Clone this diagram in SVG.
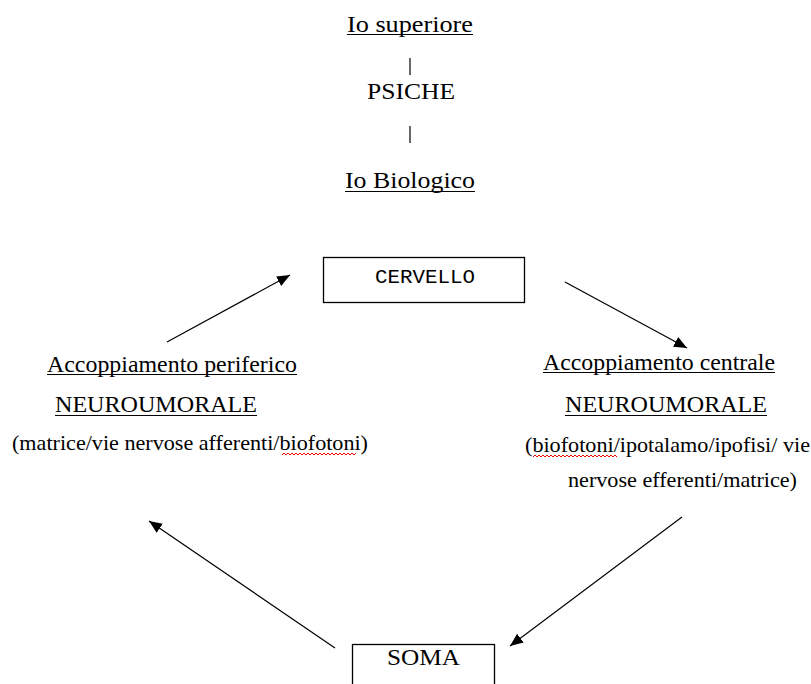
<svg xmlns="http://www.w3.org/2000/svg" width="811" height="684" viewBox="0 0 811 684">
<style>
.t{font-family:"Liberation Serif",Tinos,"Times New Roman","DejaVu Serif",serif;font-size:24px;fill:#000}
.s{font-family:"Liberation Serif",Tinos,"Times New Roman","DejaVu Serif",serif;font-size:21px;fill:#000}
.m{font-family:"Liberation Mono",Cousine,"Courier New","DejaVu Sans Mono",monospace;font-size:20px;fill:#000}
.u{stroke:#000;stroke-width:1}
.box{fill:#fff;stroke:#000;stroke-width:1.3}
.c{stroke:#000;stroke-width:1.2;fill:none}
.sq{stroke:#e00;stroke-width:1;fill:none}
</style>
<defs>
<marker id="ah" markerUnits="userSpaceOnUse" markerWidth="14" markerHeight="12" refX="13" refY="5.5" orient="auto">
<path d="M0,0 L13,5.5 L0,11 z" fill="#000"/>
</marker>
</defs>
<rect width="811" height="684" fill="#fff"/>
<g id="io-superiore">
<text class="t" x="347" y="32" textLength="126" lengthAdjust="spacingAndGlyphs">Io superiore</text>
<line class="u" x1="347" y1="34.5" x2="473" y2="34.5"/>
</g>
<g id="psiche">
<text class="t" x="367" y="99" textLength="88" lengthAdjust="spacingAndGlyphs">PSICHE</text>
</g>
<g id="io-biologico">
<text class="t" x="345" y="188" textLength="130" lengthAdjust="spacingAndGlyphs">Io Biologico</text>
<line class="u" x1="345" y1="191.5" x2="475" y2="191.5"/>
</g>
<g id="cervello">
<rect class="box" x="323.5" y="257.5" width="201" height="45"/>
<text class="m" x="375" y="283" textLength="100" lengthAdjust="spacingAndGlyphs">CERVELLO</text>
</g>
<g id="periferico">
<text class="t" x="47" y="372" textLength="250" lengthAdjust="spacingAndGlyphs">Accoppiamento periferico</text>
<line class="u" x1="47" y1="374.5" x2="297" y2="374.5"/>
<text class="t" x="55" y="412" textLength="202" lengthAdjust="spacingAndGlyphs">NEUROUMORALE</text>
<line class="u" x1="55" y1="415.5" x2="257" y2="415.5"/>
<text class="s" x="12" y="450" textLength="356" lengthAdjust="spacingAndGlyphs">(matrice/vie nervose afferenti/biofotoni)</text>
<path class="sq" d="M282,455 l2,-2 l2,2 l2,-2 l2,2 l2,-2 l2,2 l2,-2 l2,2 l2,-2 l2,2 l2,-2 l2,2 l2,-2 l2,2 l2,-2 l2,2 l2,-2 l2,2 l2,-2 l2,2 l2,-2 l2,2 l2,-2 l2,2 l2,-2 l2,2 l2,-2 l2,2 l2,-2 l2,2 l2,-2 l2,2 l2,-2 l2,2 l2,-2 l2,2 l2,-2"/>
</g>
<g id="centrale">
<text class="t" x="543" y="370" textLength="232" lengthAdjust="spacingAndGlyphs">Accoppiamento centrale</text>
<line class="u" x1="543" y1="372.5" x2="775" y2="372.5"/>
<text class="t" x="565" y="412" textLength="202" lengthAdjust="spacingAndGlyphs">NEUROUMORALE</text>
<line class="u" x1="565" y1="415.5" x2="767" y2="415.5"/>
<text class="s" x="525" y="452" textLength="285" lengthAdjust="spacingAndGlyphs">(biofotoni/ipotalamo/ipofisi/ vie</text>
<path class="sq" d="M533,457 l2,-2 l2,2 l2,-2 l2,2 l2,-2 l2,2 l2,-2 l2,2 l2,-2 l2,2 l2,-2 l2,2 l2,-2 l2,2 l2,-2 l2,2 l2,-2 l2,2 l2,-2 l2,2 l2,-2 l2,2 l2,-2 l2,2 l2,-2 l2,2 l2,-2 l2,2 l2,-2 l2,2 l2,-2 l2,2 l2,-2 l2,2 l2,-2 l2,2 l2,-2 l2,2 l2,-2 l2,2 l2,-2 l2,2"/>
<text class="s" x="568" y="487" textLength="229" lengthAdjust="spacingAndGlyphs">nervose efferenti/matrice)</text>
</g>
<g id="soma">
<rect class="box" x="352.5" y="644.5" width="142" height="60"/>
<text class="t" x="387" y="665" textLength="73" lengthAdjust="spacingAndGlyphs">SOMA</text>
</g>
<g id="connectors">
<line class="c" x1="410" y1="58" x2="410" y2="75"/>
<line class="c" x1="410" y1="126" x2="410" y2="143"/>
<line class="c" x1="167" y1="342" x2="290" y2="275" marker-end="url(#ah)"/>
<line class="c" x1="565" y1="282" x2="687" y2="348" marker-end="url(#ah)"/>
<line class="c" x1="682" y1="517" x2="510" y2="646" marker-end="url(#ah)"/>
<line class="c" x1="335" y1="648" x2="149" y2="521" marker-end="url(#ah)"/>
</g>
</svg>
